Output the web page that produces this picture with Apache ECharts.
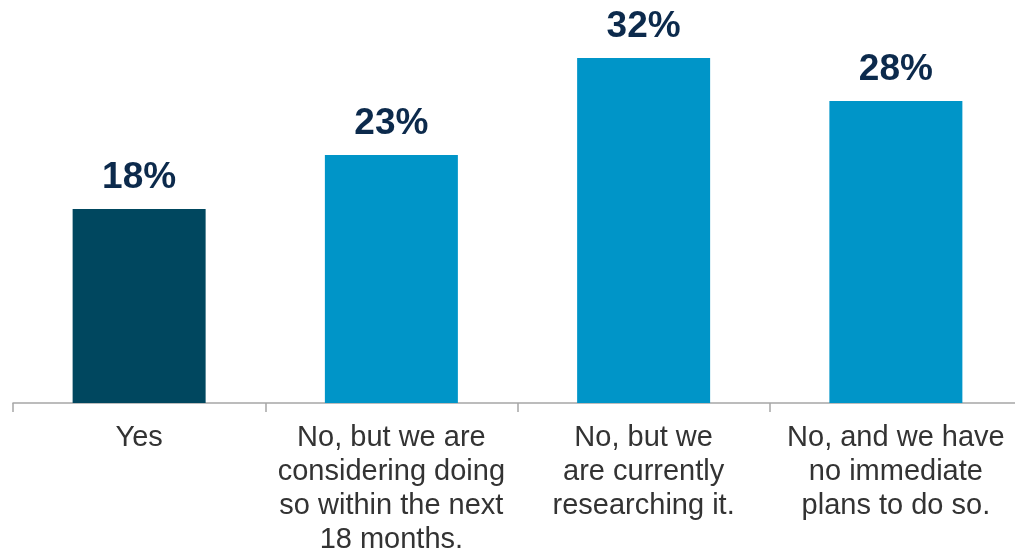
<!DOCTYPE html>
<html>
<head>
<meta charset="utf-8">
<script src="https://cdn.jsdelivr.net/npm/echarts@6/dist/echarts.min.js"></script>
<style>
  html, body { margin: 0; padding: 0; background: #fff; }
  #chart { width: 1015px; height: 550px; }
</style>
</head>
<body>
<div id="chart"></div>
<script>
var categories = [
  'Yes',
  'No, but we are\nconsidering doing\nso within the next\n18 months.',
  'No, but we\nare currently\nresearching it.',
  'No, and we have\nno immediate\nplans to do so.'
];
var values = [18, 23, 32, 28];
var barColors = ['#00475f', '#0095c8', '#0095c8', '#0095c8'];

var chart = echarts.init(document.getElementById('chart'));

var option = {
  animation: false,
  grid: {
    left: 13,
    width: 1009,
    top: 4,
    bottom: 147,
    outerBoundsMode: 'none',
    containLabel: false
  },
  xAxis: {
    type: 'category',
    data: categories,
    axisLine: { lineStyle: { color: '#a6a6a6', width: 1.5 } },
    axisTick: { show: true, length: 9, lineStyle: { color: '#a6a6a6', width: 1.5 } },
    axisLabel: {
      interval: 0,
      margin: 18,
      fontFamily: 'Liberation Sans, Arial, sans-serif',
      fontSize: 29,
      lineHeight: 34,
      color: '#333333'
    }
  },
  yAxis: {
    type: 'value',
    min: 0,
    max: 37,
    show: false,
    splitLine: { show: false }
  },
  series: [{
    type: 'bar',
    data: values.map(function (v, i) {
      return { value: v, itemStyle: { color: barColors[i] } };
    }),
    barWidth: 133,
    label: {
      show: true,
      position: 'top',
      distance: 13,
      formatter: '{c}%',
      fontFamily: 'Liberation Sans, Arial, sans-serif',
      fontWeight: 'bold',
      fontSize: 37,
      lineHeight: 37,
      color: '#0c2a4c'
    }
  }]
};

chart.setOption(option);
</script>
</body>
</html>
